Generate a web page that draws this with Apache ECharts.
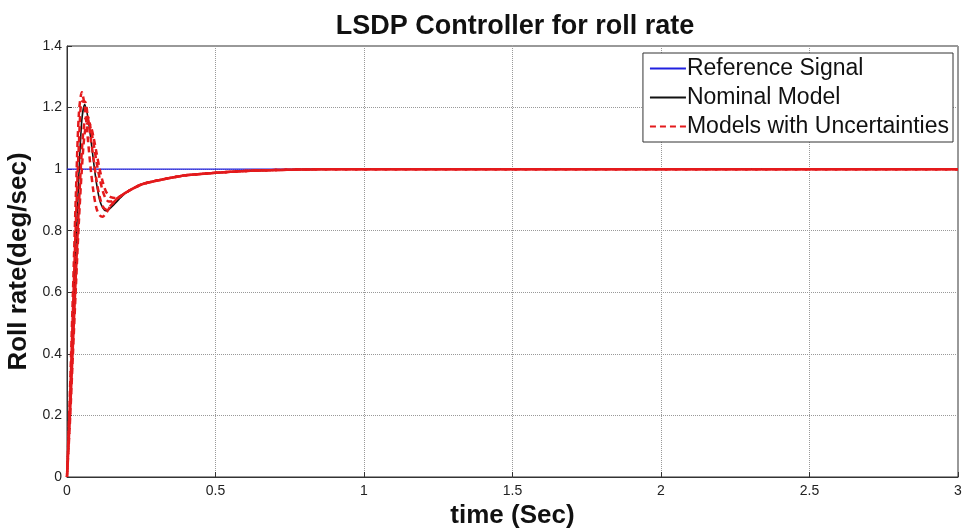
<!DOCTYPE html>
<html>
<head>
<meta charset="utf-8">
<script src="https://cdn.jsdelivr.net/npm/echarts@6/dist/echarts.min.js"></script>
<style>
  html, body { margin: 0; padding: 0; background: #fff; }
  #chart { width: 962px; height: 529px; }
</style>
</head>
<body>
<div id="chart"></div>
<script>
// time axis (sec) shared by the step responses
const time = [0, 0.01, 0.02, 0.03, 0.04, 0.05, 0.06, 0.07, 0.08, 0.09, 0.10, 0.11, 0.12, 0.13, 0.14,
  0.15, 0.16, 0.17, 0.18, 0.20, 0.25, 0.30, 0.35, 0.40, 0.50, 0.60, 0.70, 0.80, 1.0, 3.0];

// reference step
const refTime = [0, 3];
const refValues = [1, 1];

// nominal model
const nominal = [0, 0.22, 0.48, 0.74, 0.98, 1.16, 1.21, 1.17, 1.10, 1.02, 0.95, 0.90, 0.875, 0.865, 0.868,
  0.877, 0.887, 0.897, 0.907, 0.925, 0.95, 0.962, 0.972, 0.98, 0.988, 0.994, 0.997, 0.999, 1.0, 1.0];

// models with uncertainties
const uncert1 = [0, 0.28, 0.60, 0.92, 1.18, 1.25, 1.20, 1.10, 1.00, 0.92, 0.87, 0.85, 0.845, 0.855, 0.87,
  0.885, 0.895, 0.905, 0.912, 0.925, 0.95, 0.962, 0.972, 0.98, 0.988, 0.994, 0.997, 0.999, 1.0, 1.0];
const uncert2 = [0, 0.25, 0.54, 0.83, 1.08, 1.22, 1.22, 1.17, 1.10, 1.03, 0.96, 0.91, 0.88, 0.87, 0.875,
  0.885, 0.895, 0.905, 0.912, 0.925, 0.95, 0.962, 0.972, 0.98, 0.988, 0.994, 0.997, 0.999, 1.0, 1.0];
const uncert3 = [0, 0.20, 0.43, 0.66, 0.88, 1.06, 1.16, 1.17, 1.13, 1.08, 1.02, 0.97, 0.93, 0.905, 0.895,
  0.895, 0.90, 0.905, 0.912, 0.925, 0.95, 0.962, 0.972, 0.98, 0.988, 0.994, 0.997, 0.999, 1.0, 1.0];
const uncert4 = [0, 0.18, 0.40, 0.62, 0.83, 1.00, 1.12, 1.15, 1.14, 1.10, 1.05, 1.00, 0.96, 0.93, 0.915,
  0.908, 0.906, 0.907, 0.912, 0.925, 0.95, 0.962, 0.972, 0.98, 0.988, 0.994, 0.997, 0.999, 1.0, 1.0];

const UNC = 'Models with Uncertainties';

function pairs(xs, ys) {
  return xs.map((x, i) => [x, ys[i]]);
}

function uncSeries(values, offset) {
  return {
    name: UNC,
    type: 'line',
    data: pairs(time, values),
    symbol: 'none',
    smooth: 0.3,
    lineStyle: { color: '#e41a1c', width: 2.5, type: [6, 4], dashOffset: offset },
    itemStyle: { color: '#e41a1c' },
  };
}

const chart = echarts.init(document.getElementById('chart'));
const font = 'Liberation Sans, Arial, sans-serif';

chart.setOption({
  animation: false,
  textStyle: { fontFamily: font },
  title: {
    text: 'LSDP Controller for roll rate',
    left: 510,
    textAlign: 'center',
    top: 8,
    textStyle: { fontSize: 27, fontWeight: 'bold', color: '#111', fontFamily: font },
  },
  legend: {
    data: [
      { name: 'Reference Signal' },
      { name: 'Nominal Model' },
      { name: UNC },
    ],
    orient: 'vertical',
    right: 9,
    top: 53,
    itemWidth: 36,
    itemHeight: 14,
    itemGap: 6,
    padding: [4, 4, 4, 6],
    backgroundColor: '#fff',
    borderColor: '#333',
    borderWidth: 1,
    borderRadius: 0,
    itemStyle: { opacity: 0 },
    textStyle: { fontSize: 23, color: '#111', fontFamily: font, padding: [0, 0, 0, -4] },
  },
  grid: {
    left: 67,
    right: 4,
    top: 46,
    bottom: 52,
    outerBoundsMode: 'none',
    show: true,
    borderColor: '#333',
    borderWidth: 1,
  },
  xAxis: {
    type: 'value',
    min: 0,
    max: 3,
    interval: 0.5,
    name: 'time (Sec)',
    nameLocation: 'middle',
    nameGap: 21,
    nameTextStyle: { fontSize: 26, fontWeight: 'bold', color: '#111' },
    axisLine: { onZero: false, lineStyle: { color: '#333' } },
    axisTick: { inside: true, length: 5, lineStyle: { color: '#333' } },
    axisLabel: { fontSize: 14, color: '#222', margin: 7 },
    splitLine: { show: true, lineStyle: { color: '#999', type: 'dotted' } },
  },
  yAxis: {
    type: 'value',
    min: 0,
    max: 1.4,
    interval: 0.2,
    name: 'Roll rate(deg/sec)',
    nameLocation: 'middle',
    nameGap: 28,
    nameTextStyle: { fontSize: 26, fontWeight: 'bold', color: '#111' },
    axisLine: { show: true, lineStyle: { color: '#333' } },
    axisTick: { show: true, inside: true, length: 5, lineStyle: { color: '#333' } },
    axisLabel: { fontSize: 14, color: '#222', margin: 5 },
    splitLine: { show: true, lineStyle: { color: '#999', type: 'dotted' } },
  },
  series: [
    {
      name: 'Reference Signal',
      type: 'line',
      data: pairs(refTime, refValues),
      symbol: 'none',
      lineStyle: { color: '#2020e0', width: 1.2 },
      itemStyle: { color: '#2020e0' },
    },
    {
      name: 'Nominal Model',
      type: 'line',
      data: pairs(time, nominal),
      symbol: 'none',
      smooth: 0.3,
      lineStyle: { color: '#111', width: 1.6 },
      itemStyle: { color: '#111' },
    },
    uncSeries(uncert1, 0),
    uncSeries(uncert2, 5),
    uncSeries(uncert3, 2),
    uncSeries(uncert4, 7),
  ],
});
</script>
</body>
</html>
